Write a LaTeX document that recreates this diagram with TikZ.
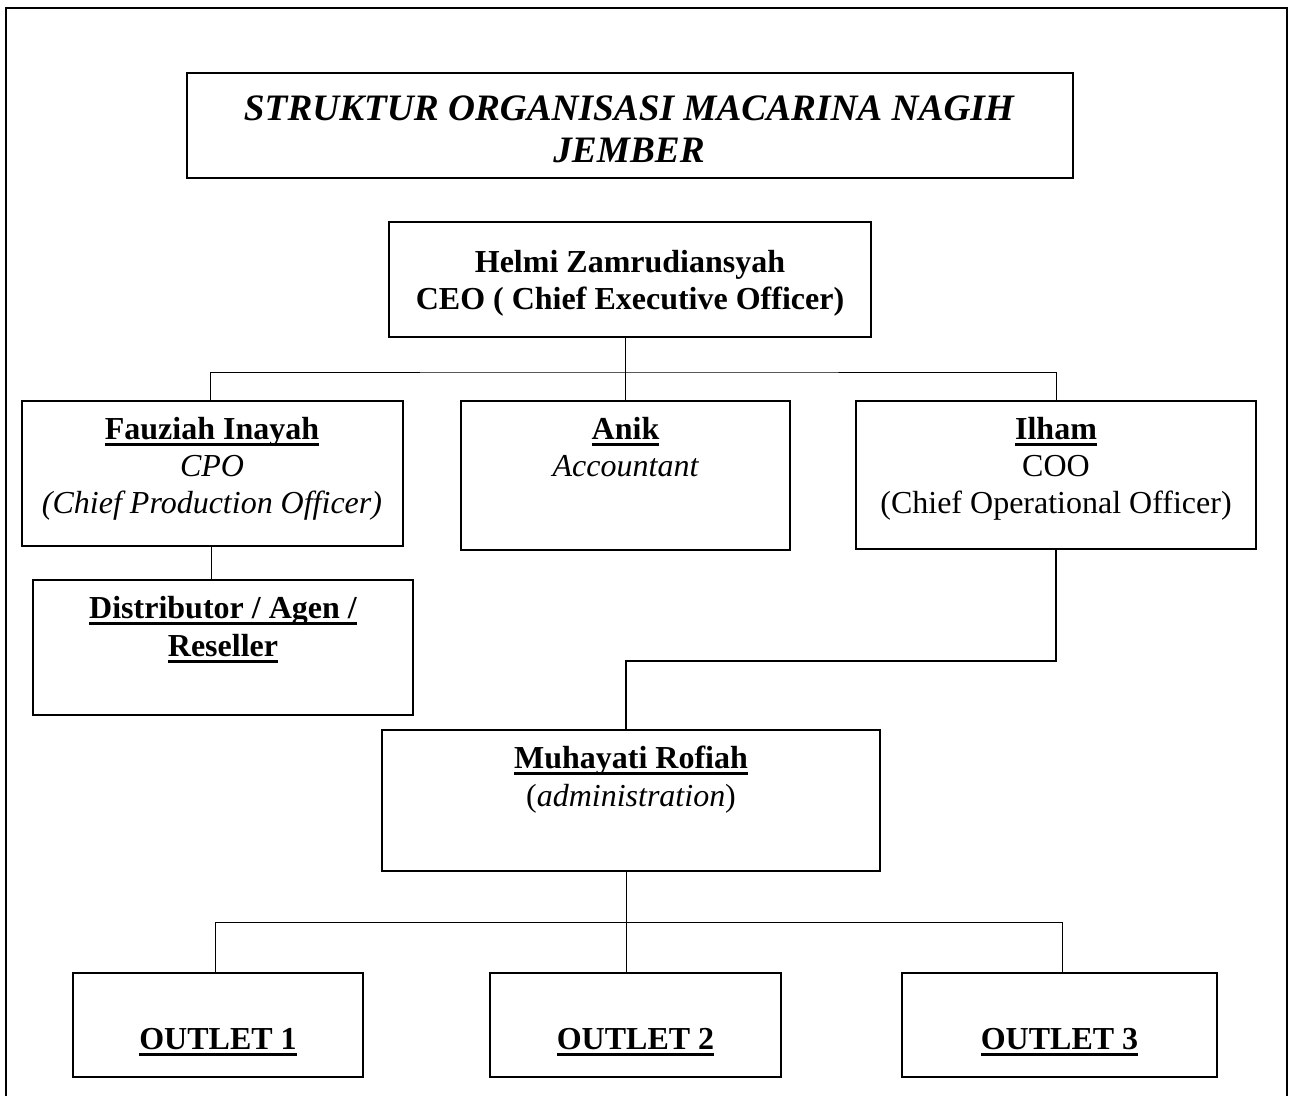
\documentclass[tikz,border=0pt]{standalone}
\usepackage{fontspec}
\setmainfont{Liberation Serif}
\newcommand\ulbox[1]{\setbox0\hbox{#1}\rlap{\rule[-0.21em]{\wd0}{0.095em}}\box0}
\begin{document}
\begin{tikzpicture}[x=1pt,y=-1pt,
  box/.style={draw=black,line width=1.4pt,inner sep=0pt},
  conn/.style={draw=black,line width=1pt},
  txt/.style={anchor=base,inner sep=0pt,font=\fontsize{32}{37}\selectfont},
  ttl/.style={anchor=base,inner sep=0pt,font=\fontsize{37.3}{43}\selectfont\bfseries\itshape}]
\useasboundingbox (0,0) rectangle (1289,1095);
\fill[white] (0,0) rectangle (1289,1095);
% outer frame
\draw[line width=2.6pt] (6,1110) -- (6,8) -- (1287,8) -- (1287,1110);
% boxes
\node[box,minimum width=886,minimum height=105] (title) at (630,125.5) {};
\node[box,line width=2.6pt,minimum width=482,minimum height=115] (ceo) at (630,279.5) {};
\node[box,minimum width=381,minimum height=145] (fau) at (212.5,473.5) {};
\node[box,minimum width=329,minimum height=149] (anik) at (625.5,475.5) {};
\node[box,minimum width=400,minimum height=148] (ilham) at (1056,475) {};
\node[box,minimum width=380,minimum height=135] (dist) at (223,647.5) {};
\node[box,minimum width=498,minimum height=141] (muh) at (631,800.5) {};
\node[box,minimum width=290,minimum height=104] (o1) at (218,1025) {};
\node[box,minimum width=291,minimum height=104] (o2) at (635.5,1025) {};
\node[box,minimum width=315,minimum height=104] (o3) at (1059.5,1025) {};
% texts
\node[ttl] (t1) at (629,120) {STRUKTUR ORGANISASI MACARINA NAGIH};
\node[ttl] (t2) at (629,162) {JEMBER};
\node[txt,font=\fontsize{32}{37}\selectfont\bfseries] (c1) at (630,272) {Helmi Zamrudiansyah};
\node[txt,font=\fontsize{32}{37}\selectfont\bfseries] (c2) at (630,309) {CEO ( Chief Executive Officer)};
\node[txt,font=\fontsize{32}{37}\selectfont\bfseries] (f1) at (212,439) {\ulbox{Fauziah Inayah}};
\node[txt,font=\fontsize{32}{37}\selectfont\itshape] (f2) at (212,476) {CPO};
\node[txt,font=\fontsize{32}{37}\selectfont\itshape] (f3) at (212,513) {(Chief Production Officer)};
\node[txt,font=\fontsize{32}{37}\selectfont\bfseries] (a1) at (625.5,439) {\ulbox{Anik}};
\node[txt,font=\fontsize{32}{37}\selectfont\itshape] (a2) at (625.5,476) {Accountant};
\node[txt,font=\fontsize{32}{37}\selectfont\bfseries] (i1) at (1056,439) {\ulbox{Ilham}};
\node[txt] (i2) at (1056,476) {COO};
\node[txt] (i3) at (1056,513) {(Chief Operational Officer)};
\node[txt,font=\fontsize{32}{37}\selectfont\bfseries] (d1) at (223,618) {\ulbox{Distributor / Agen /}};
\node[txt,font=\fontsize{32}{37}\selectfont\bfseries] (d2) at (223,656) {\ulbox{Reseller}};
\node[txt,font=\fontsize{32}{37}\selectfont\bfseries] (m1) at (631,768) {\ulbox{Muhayati Rofiah}};
\node[txt] (m2) at (631,806) {(\textit{administration})};
\node[txt,font=\fontsize{32}{37}\selectfont\bfseries] (ot1) at (218,1049) {\ulbox{OUTLET 1}};
\node[txt,font=\fontsize{32}{37}\selectfont\bfseries] (ot2) at (635.5,1049) {\ulbox{OUTLET 2}};
\node[txt,font=\fontsize{32}{37}\selectfont\bfseries] (ot3) at (1059.5,1049) {\ulbox{OUTLET 3}};
% connectors
\coordinate (bus1) at (625,372);
\coordinate (elb) at (626,661);
\coordinate (bus2) at (626,922);
\draw[conn] (ceo.south -| bus1) -- (anik.north -| bus1);
\draw[conn] (fau.north -| 210,0) |- (bus1) -| (ilham.north);
\draw[conn] (fau.south -| 211,0) -- (dist.north -| 211,0);
\draw[conn,line width=1.5pt] (ilham.south) |- (elb) -- (elb |- muh.north);
\draw[conn] (bus2 |- muh.south) -- (bus2 |- o2.north);
\draw[conn] (o1.north -| 215,0) |- (bus2) -| (o3.north -| 1062,0);
\end{tikzpicture}
\end{document}
